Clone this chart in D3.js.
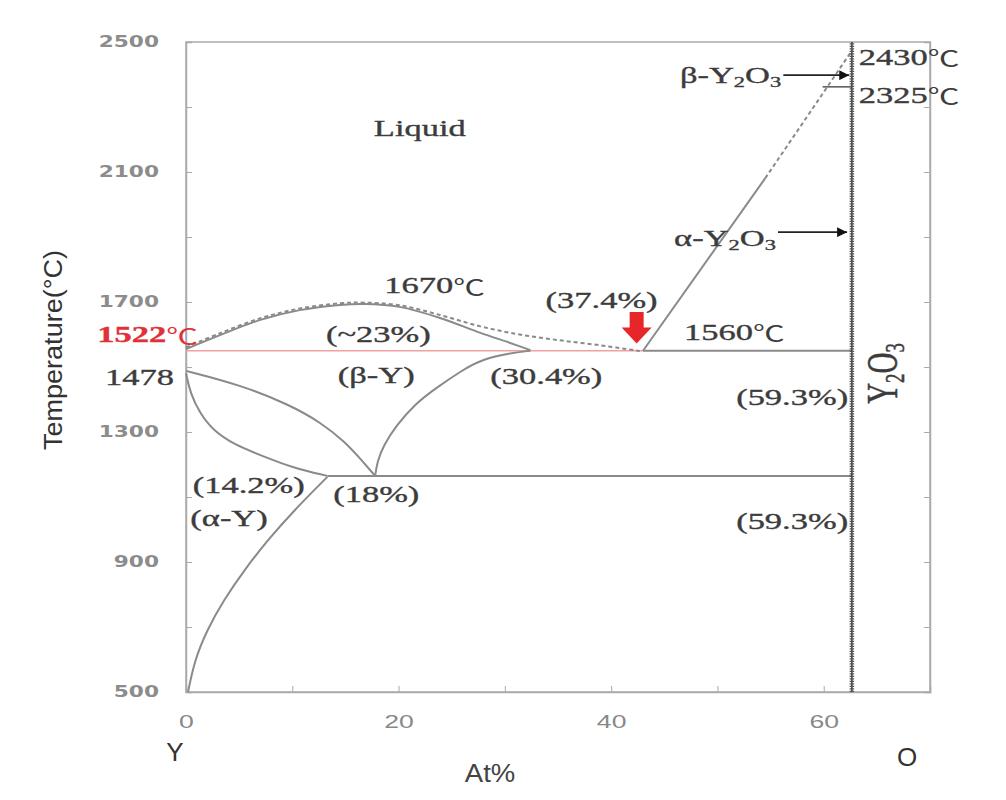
<!DOCTYPE html>
<html><head><meta charset="utf-8">
<script src="https://cdn.jsdelivr.net/npm/d3@7"></script>
<style>body{margin:0;background:#fff;} svg{display:block}</style>
</head><body>
<svg id="c" width="1006" height="800"></svg>
<script>
// ---- data ----
const xTickValues = [0,10,20,30,40,50,60,70];
const xTickLabels = ["0","","20","","40","","60",""];
const yTickValues = [500,700,900,1100,1300,1500,1700,1900,2100,2300,2500];
const yTickLabels = ["500","","900","","1300","","1700","","2100","","2500"];

const liquidusSolid = [[0,1555],[3.2,1598],[7.0,1645],[10.7,1675],[14.5,1691],[16.8,1694],[20.1,1685],[23.9,1651],[27.7,1605],[30.5,1574],[32.4,1552]];
const liquidusDashed = [[0,1560],[3.2,1604],[7.0,1650],[10.7,1680],[14.5,1696],[16.8,1698],[20.1,1690],[23.9,1660],[27.7,1625],[31.4,1600],[35.2,1582],[38.9,1567],[42.7,1549]];
const solvusA = [[0,1481],[0.4,1420],[1.3,1358],[2.5,1306],[4.6,1260],[7.0,1229],[10.1,1189],[13.3,1165]];
const solvusB = [[0,1488],[5.1,1445],[9.8,1383],[12.6,1331],[15.0,1269],[16.5,1214],[17.8,1165]];
const betaBoundary = [[17.8,1165],[18.0,1210],[18.6,1260],[19.8,1320],[21.5,1385],[23.5,1435],[26.0,1490],[27.7,1522],[30.5,1543],[32.4,1550]];
const alphaYBoundary = [[0.19,500],[0.81,598],[1.98,691],[3.55,783],[5.48,875],[7.7,968],[10.2,1060],[13.3,1162]];
const eutecticRed = [[0,1550],[43.0,1550]];
const eutecticGrey = [[43.0,1550],[62.65,1550]];
const eutectoid = [[13.3,1165],[62.65,1165]];
const alphaY2O3Solid = [[43.0,1550],[54.5,2081]];
const alphaY2O3Dashed = [[54.5,2081],[62.5,2466]];
const beta2325 = [[59.9,2362],[62.65,2362]];
const y2o3Line = [[62.65,500],[62.65,2500]];
const betaArrow = [[56.2,2398],[62.4,2398]];
const alphaArrow = [[55.7,1915],[62.2,1915]];
const redArrow = {x:42.4, top:1669, tip:1572};

const labels = [
  {t:"Liquid", x:22.0, y:2235, a:"middle"},
  {t:"1670\u2103", x:23.4, y:1752, a:"middle"},
  {t:"(~23%)", x:18.1, y:1600, a:"middle"},
  {t:"(\u03b2-Y)", x:17.9, y:1475, a:"middle"},
  {t:"(30.4%)", x:33.9, y:1472, a:"middle"},
  {t:"(37.4%)", x:39.1, y:1706, a:"middle"},
  {t:"1560\u2103", x:51.6, y:1608, a:"middle"},
  {t:"(59.3%)", x:62.3, y:1408, a:"end"},
  {t:"(59.3%)", x:62.3, y:1026, a:"end"},
  {t:"(14.2%)", x:5.9, y:1137, a:"middle"},
  {t:"(\u03b1-Y)", x:4.05, y:1035, a:"middle"},
  {t:"(18%)", x:17.9, y:1109, a:"middle"},
  {t:"2430\u2103", x:63.3, y:2454, a:"start"},
  {t:"2325\u2103", x:63.3, y:2337, a:"start"}
];

// ---- scales ----
const svg = d3.select("#c");
const x = d3.scaleLinear().domain([0,70]).range([186,930]);
const y = d3.scaleLinear().domain([500,2500]).range([692,42]);
const line = d3.line().x(d=>x(d[0])).y(d=>y(d[1]));
const curve = d3.line().x(d=>x(d[0])).y(d=>y(d[1])).curve(d3.curveCatmullRom.alpha(0.5));
const smooth = d3.line().x(d=>x(d[0])).y(d=>y(d[1])).curve(d3.curveBasis);

const frameC = "#aaa", curveC = "#8a8a8a", textC = "#3c3c3c";
const SX = 1.5; // horizontal stretch of lettering seen in the picture
const serif = "Liberation Serif, Times New Roman, serif";

// frame
svg.append("rect").attr("x",x(0)).attr("y",y(2500)).attr("width",x(70)-x(0)).attr("height",y(500)-y(2500))
  .attr("fill","none").attr("stroke",frameC).attr("stroke-width",1.5);

// axes
const xAxis = d3.axisBottom(x).tickValues(xTickValues).tickSize(-6).tickPadding(23)
  .tickFormat((d,i)=>xTickLabels[i]);
const gx = svg.append("g").attr("transform",`translate(0,${y(500)})`).call(xAxis);
gx.select(".domain").attr("stroke",frameC).attr("stroke-width",1.5);
gx.selectAll(".tick line").attr("stroke",frameC);
gx.selectAll(".tick text").each(function(){
  const t = d3.select(this);
  const yy = +t.attr("y");
  t.attr("y",0).attr("transform",`translate(0,${yy}) scale(1.4,1)`);
}).attr("font-family","Liberation Sans, Arial").attr("font-size",19).attr("fill","#888");

const yAxis = d3.axisLeft(y).tickValues(yTickValues).tickSize(-6).tickPadding(27)
  .tickFormat((d,i)=>yTickLabels[i]);
const gy = svg.append("g").attr("transform",`translate(${x(0)},0)`).call(yAxis);
gy.select(".domain").attr("stroke",frameC).attr("stroke-width",1.5);
gy.selectAll(".tick line").attr("stroke",frameC);
gy.selectAll(".tick text").each(function(){
  const t = d3.select(this);
  const xx = +t.attr("x");
  t.attr("x",0).attr("transform",`translate(${xx},0) scale(1.4,1)`);
}).attr("font-family","DejaVu Sans, sans-serif").attr("font-weight","bold")
  .attr("font-size",15.5).attr("fill","#8c8c8c");

const yAxisR = d3.axisRight(y).tickValues(yTickValues).tickSize(-6).tickFormat("");
const gyr = svg.append("g").attr("transform",`translate(${x(70)},0)`).call(yAxisR);
gyr.select(".domain").attr("stroke",frameC).attr("stroke-width",1.5);
gyr.selectAll(".tick line").attr("stroke",frameC);

// curves
function path(data, gen, color, w, dash){
  const p = svg.append("path").attr("d",gen(data)).attr("fill","none").attr("stroke",color).attr("stroke-width",w);
  if(dash) p.attr("stroke-dasharray",dash);
  return p;
}
path(eutecticRed, line, "#f2a0a0", 1.5);
path(eutecticGrey, line, curveC, 2);
path(eutectoid, line, curveC, 2);
path(liquidusSolid, curve, curveC, 2);
path(liquidusDashed, curve, "#8a8a8a", 2, "4,3");
path(solvusA, smooth, curveC, 2);
path(solvusB, smooth, curveC, 2);
path(betaBoundary, smooth, curveC, 2);
path(alphaYBoundary, smooth, curveC, 2);
path(alphaY2O3Solid, line, curveC, 2);
path(alphaY2O3Dashed, line, curveC, 2, "4,3");
path(beta2325, line, "#555", 1.5);
path(y2o3Line, line, "#333", 1.5);
path(y2o3Line, line, "#555", 4.5, "1.2,1.3");

// arrows
svg.append("defs").append("marker").attr("id","ah").attr("viewBox","0 0 10 10").attr("refX",10).attr("refY",5)
  .attr("markerWidth",14).attr("markerHeight",10).attr("markerUnits","userSpaceOnUse")
  .attr("orient","auto").append("path").attr("d","M0,0 L10,5 L0,10 z").attr("fill","#111");
[betaArrow, alphaArrow].forEach(a=>{
  path(a, line, "#222", 1.6).attr("marker-end","url(#ah)");
});

// red block arrow
{
  const cx = x(redArrow.x), t = y(redArrow.top), tip = y(redArrow.tip);
  const hw = 15, sw = 7, headLen = 16;
  const hb = tip - headLen;
  svg.append("path").attr("fill","#e8262a")
    .attr("d",`M${cx-sw},${t} L${cx+sw},${t} L${cx+sw},${hb} L${cx+hw},${hb} L${cx},${tip} L${cx-hw},${hb} L${cx-sw},${hb} Z`);
}

// text helper: stretched horizontally like the reference
function stretchedText(px, py, anchor, size, fill, family, weight){
  return svg.append("text").attr("transform",`translate(${px},${py}) scale(${SX},1)`)
    .attr("text-anchor",anchor).attr("dominant-baseline","central")
    .attr("font-family",family).attr("font-size",size).attr("font-weight",weight||"normal")
    .attr("fill",fill).attr("stroke",fill).attr("stroke-width",0.35);
}
function addDeg(t, txt){
  const i = txt.indexOf("\u2103");
  if(i<0){ t.text(txt); return; }
  t.append("tspan").text(txt.slice(0,i));
  t.append("tspan").attr("font-family","Noto Sans CJK SC, sans-serif").attr("font-weight","normal")
    .attr("font-size","0.92em").attr("stroke-width",0).text("\u2103");
}

labels.forEach(d=>{
  const t = stretchedText(x(d.x), y(d.y), d.a, 23, textC, serif);
  addDeg(t, d.t);
});

// subscripted labels
function subLabel(px, py, prefix, size, anchor, rotate){
  const tr = rotate ? `translate(${px},${py}) scale(${SX},1) rotate(-90)` : `translate(${px},${py}) scale(${SX},1)`;
  const t = svg.append("text").attr("transform",tr).attr("text-anchor",anchor)
    .attr("dominant-baseline","central")
    .attr("font-family",serif).attr("font-size",size).attr("fill",textC)
    .attr("stroke",textC).attr("stroke-width",0.35);
  t.append("tspan").text(prefix+"Y");
  t.append("tspan").attr("font-size",size*0.65).attr("dy",size*0.28).text("2");
  t.append("tspan").attr("dy",-size*0.28).text("O");
  t.append("tspan").attr("font-size",size*0.65).attr("dy",size*0.28).text("3");
  return t;
}
subLabel(x(56.0), y(2398), "\u03b2-", 23, "end");
subLabel(x(55.5), y(1897), "\u03b1-", 23, "end");
subLabel(x(65.5), y(1480), "", 29, "middle", true);

// red 1522 label and 1478
{
  const t = stretchedText(x(0)+12, y(1600), "end", 23, "#e03038", serif, "bold");
  addDeg(t, "1522\u2103");
  stretchedText(x(0)-12, y(1468), "end", 23, textC, serif).text("1478");
}

// axis titles
svg.append("text").attr("x",175).attr("y",752).attr("text-anchor","middle").attr("dominant-baseline","central")
  .attr("font-family","Liberation Sans, Arial").attr("font-size",26).attr("fill","#333").text("Y");
svg.append("text").attr("x",907).attr("y",757).attr("text-anchor","middle").attr("dominant-baseline","central")
  .attr("font-family","Liberation Sans, Arial").attr("font-size",26).attr("fill","#333").text("O");
svg.append("text").attr("transform","translate(490,773) scale(1.1,1)").attr("text-anchor","middle").attr("dominant-baseline","central")
  .attr("font-family","Liberation Sans, Arial").attr("font-size",25).attr("fill","#444").text("At%");
svg.append("text").attr("transform","translate(53,350) scale(1.2,1) rotate(-90)").attr("text-anchor","middle")
  .attr("dominant-baseline","central")
  .attr("font-family","Liberation Sans Narrow, Liberation Sans, Arial").attr("font-size",22)
  .attr("textLength",200).attr("lengthAdjust","spacingAndGlyphs")
  .attr("fill","#333").text("Temperature(\u00b0C)");
</script>
</body></html>
